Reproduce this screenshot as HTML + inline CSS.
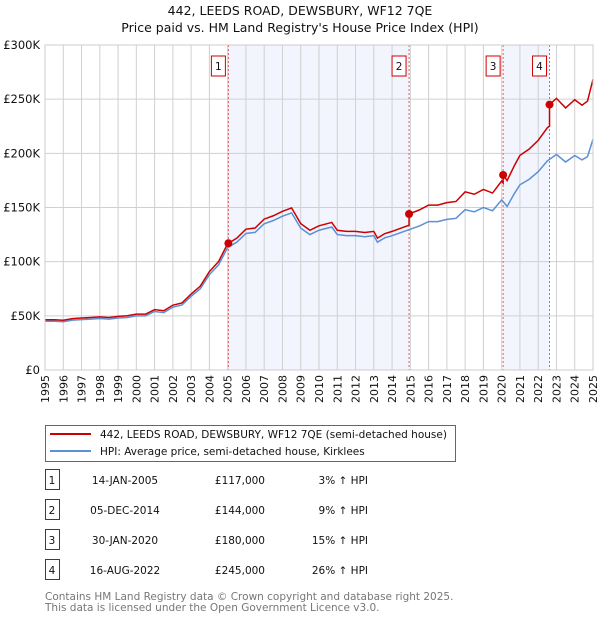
<!DOCTYPE html>
<html><head><meta charset="utf-8"><style>
body{margin:0;background:#fff;font-family:"DejaVu Sans","Liberation Sans",sans-serif;}
svg text{font-family:"DejaVu Sans","Liberation Sans",sans-serif;}
</style></head><body>
<svg width="600" height="620" viewBox="0 0 600 620" xmlns="http://www.w3.org/2000/svg">
<text x="300" y="15" text-anchor="middle" font-size="12.5" fill="#111">442, LEEDS ROAD, DEWSBURY, WF12 7QE</text>
<text x="300" y="32" text-anchor="middle" font-size="12.5" fill="#111">Price paid vs. HM Land Registry's House Price Index (HPI)</text>
<g id="plot"></g>
<g>
<rect x="45.5" y="425.5" width="410" height="36" fill="#fff" stroke="#666"/>
<line x1="50" y1="434" x2="91" y2="434" stroke="#cc0000" stroke-width="2"/>
<text x="100" y="438" font-size="10.5" fill="#111">442, LEEDS ROAD, DEWSBURY, WF12 7QE (semi-detached house)</text>
<line x1="50" y1="451" x2="91" y2="451" stroke="#5b8fd6" stroke-width="2"/>
<text x="100" y="455" font-size="10.5" fill="#111">HPI: Average price, semi-detached house, Kirklees</text>
</g>
<g id="table"></g>
<text x="45" y="600" font-size="10.5" fill="#777">Contains HM Land Registry data © Crown copyright and database right 2025.</text>
<text x="45" y="611" font-size="10.5" fill="#777">This data is licensed under the Open Government Licence v3.0.</text>
</svg>
<script>
const hpiYears=[1995,1995.5,1996,1996.5,1997,1997.5,1998,1998.5,1999,1999.5,2000,2000.5,2001,2001.5,2002,2002.5,2003,2003.5,2004,2004.5,2005,2005.5,2006,2006.5,2007,2007.5,2008,2008.5,2009,2009.5,2010,2010.7,2011,2011.5,2012,2012.5,2013,2013.2,2013.6,2014,2014.5,2015,2015.5,2016,2016.5,2017,2017.5,2018,2018.5,2019,2019.5,2020,2020.3,2020.7,2021,2021.5,2022,2022.5,2023,2023.5,2024,2024.4,2024.7,2025];
const hpiValues=[45,45,44.5,46,46.5,47,47.5,47,48,48.5,50,50,54,53,58,60,68,75,88,97,113,118,126,127,135,138,142,145,131,125,129,132,125,124,124,123,124,118,122,124,127,130,133,137,137,139,140,148,146,150,147,157,151,163,171,176,183,193,199,192,198,194,197,213];
const saleLabels=["1","2","3","4"];
const saleYears=[2005.04,2014.93,2020.08,2022.62];
const salePrices=[117000,144000,180000,245000];
const saleDates=["14-JAN-2005","05-DEC-2014","30-JAN-2020","16-AUG-2022"];
const salePct=["3%","9%","15%","26%"];
const yTicks=[0,50,100,150,200,250,300];
const yTickLabels=["£0","£50K","£100K","£150K","£200K","£250K","£300K"];
const xTicks=[1995,1996,1997,1998,1999,2000,2001,2002,2003,2004,2005,2006,2007,2008,2009,2010,2011,2012,2013,2014,2015,2016,2017,2018,2019,2020,2021,2022,2023,2024,2025];

const NS="http://www.w3.org/2000/svg";
const L=45,R=593,T=45,B=370;
const xs=y=>L+(y-1995)/30*(R-L);
const ys=v=>B-v/300*(B-T);
function mk(tag,attrs,parent){const e=document.createElementNS(NS,tag);for(const k in attrs)e.setAttribute(k,attrs[k]);parent.appendChild(e);return e;}
const plot=document.getElementById('plot');
function hpiAt(t){for(let i=0;i<hpiYears.length-1;i++){if(t>=hpiYears[i]&&t<=hpiYears[i+1]){const f=(t-hpiYears[i])/(hpiYears[i+1]-hpiYears[i]);return hpiValues[i]+f*(hpiValues[i+1]-hpiValues[i]);}}return hpiValues[hpiValues.length-1];}
for(let i=0;i<saleYears.length;i+=2){
 const r=mk('rect',{x:xs(saleYears[i]),y:T,width:xs(saleYears[i+1])-xs(saleYears[i]),height:B-T,fill:'#f2f5fd'},plot);
 
 
}
xTicks.forEach(t=>{
 const g=mk('line',{x1:xs(t),x2:xs(t),y1:T,y2:B,stroke:'#d0d0d0','stroke-width':1},plot);
 
 
 const tx=mk('text',{x:0,y:0,'font-size':11,fill:'#111','text-anchor':'end',transform:`translate(${xs(t)+4},${B+5}) rotate(-90)`},plot);
 tx.textContent=t;
 
 
});
yTicks.forEach((v,i)=>{
 const g=mk('line',{x1:L,x2:R,y1:ys(v),y2:ys(v),stroke:'#d0d0d0','stroke-width':1},plot);
 
 
 const tx=mk('text',{x:40,y:ys(v)+4,'font-size':11.5,fill:'#111','text-anchor':'end'},plot);
 tx.textContent=yTickLabels[i];
 
 
});
saleYears.forEach((s,i)=>{
 const l=mk('line',{x1:xs(s),x2:xs(s),y1:T,y2:B,stroke:'#e06060','stroke-width':1,'stroke-dasharray':'2,2'},plot);
 
 
 const bx=mk('rect',{x:xs(s)-17,y:56,width:14,height:20,fill:'#fff',stroke:'#cc0000'},plot);
 
 
 const bt=mk('text',{x:xs(s)-10,y:70,'font-size':10.5,'text-anchor':'middle',fill:'#111'},plot);
 bt.textContent=saleLabels[i];
 
 
});
const hp=mk('polyline',{points:hpiYears.map((y,i)=>xs(y)+','+ys(hpiValues[i])).join(' '),fill:'none',stroke:'#5b8fd6','stroke-width':1.5},plot);


const factors=saleYears.map((s,i)=>salePrices[i]/1000/hpiAt(s));
const pts=[];
const allT=[...new Set([...hpiYears,...saleYears])].sort((a,b)=>a-b);
allT.forEach(t=>{
 let k=0;for(let i=0;i<saleYears.length;i++)if(t>=saleYears[i])k=i;
 if(saleYears.includes(t)&&saleYears.indexOf(t)>0){const j=saleYears.indexOf(t);pts.push(xs(t)+','+ys(hpiAt(t)*factors[j-1]));}
 pts.push(xs(t)+','+ys(hpiAt(t)*factors[k]));
});
const pl=mk('polyline',{points:pts.join(' '),fill:'none',stroke:'#cc0000','stroke-width':1.5},plot);


saleYears.forEach((s,i)=>{
 const c=mk('circle',{cx:xs(s),cy:ys(salePrices[i]/1000),r:4,fill:'#cc0000'},plot);
 
 
});
mk('rect',{x:L,y:T,width:R-L,height:B-T,fill:'none',stroke:'#ccc'},plot);
const tb=document.getElementById('table');
saleLabels.forEach((lab,i)=>{
 const y=483+i*30;
 const b=mk('rect',{x:45.5,y:y-13.5,width:14,height:20,fill:'#fff',stroke:'#cc0000'},tb);
 
 
 const cells=[[52,lab,'middle'],[125,saleDates[i],'middle'],[265,'£'+salePrices[i].toLocaleString('en-GB'),'end'],[368,salePct[i]+' ↑ HPI','end']];
 cells.forEach(c=>{
  const t=mk('text',{x:c[0],y:y+1,'font-size':10.5,fill:'#111','text-anchor':c[2]},tb);
  t.textContent=c[1];
  
  
 });
});
</script>
</body></html>
